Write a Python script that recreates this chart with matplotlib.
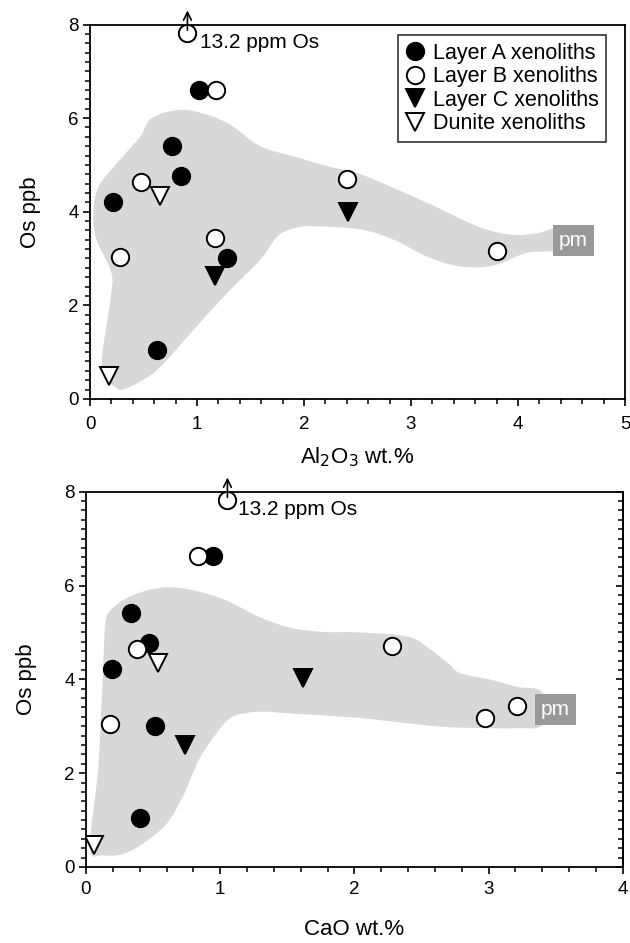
import numpy as np
import matplotlib
matplotlib.use("Agg")
import matplotlib.pyplot as plt
from matplotlib.ticker import MultipleLocator
from matplotlib.lines import Line2D
from matplotlib.path import Path
from matplotlib.patches import PathPatch

plt.rcParams['font.family'] = ['Liberation Sans', 'DejaVu Sans']

# ---- data: Al2O3 panel ----
al_A_x = [1.02, 0.77, 0.85, 0.21, 1.28, 0.625]
al_A_y = [6.61, 5.40, 4.77, 4.21, 3.01, 1.05]
al_B_x = [0.91, 1.18, 0.48, 0.28, 1.17, 2.40, 3.80]
al_B_y = [7.82, 6.61, 4.64, 3.04, 3.43, 4.70, 3.15]
al_C_x = [1.17, 2.41]
al_C_y = [2.62, 3.99]
al_D_x = [0.65, 0.175]
al_D_y = [4.33, 0.48]

# ---- data: CaO panel ----
ca_A_x = [0.943, 0.336, 0.467, 0.195, 0.511, 0.40]
ca_A_y = [6.62, 5.41, 4.78, 4.21, 3.01, 1.05]
ca_B_x = [1.054, 0.835, 0.383, 0.178, 2.28, 2.975, 3.21]
ca_B_y = [7.82, 6.62, 4.64, 3.04, 4.70, 3.17, 3.44]
ca_C_x = [0.74, 1.617]
ca_C_y = [2.60, 4.02]
ca_D_x = [0.536, 0.059]
ca_D_y = [4.34, 0.46]

# shaded field outlines
al_field_x = [0.25, 0.11, 0.19, 0.20, 0.06, 0.03, 0.08, 0.28, 0.47, 0.56, 0.75, 0.97,
              1.28, 1.59, 1.91, 2.22, 2.53, 3.15, 3.62, 3.93, 4.18, 4.40,
              4.40, 4.08, 3.77, 3.46, 3.15, 2.84, 2.53, 2.09, 1.91, 1.75, 1.59,
              1.28, 0.97, 0.66, 0.50, 0.34]
al_field_y = [0.23, 0.69, 2.12, 2.69, 3.40, 3.97, 4.54, 5.11, 5.61, 5.97, 6.15, 6.15,
              5.90, 5.40, 5.18, 4.97, 4.80, 4.19, 3.69, 3.51, 3.54, 3.66,
              3.20, 3.12, 2.85, 2.83, 3.04, 3.40, 3.62, 3.69, 3.65, 3.47, 2.97,
              2.26, 1.48, 0.69, 0.41, 0.23]
ca_field_x = [0.03, 0.09, 0.116, 0.128, 0.14, 0.165, 0.277, 0.425, 0.60, 0.795, 1.04,
              1.29, 1.536, 1.78, 2.03, 2.40, 2.57, 2.70, 2.79, 3.02, 3.21, 3.40,
              3.40, 3.21, 2.97, 2.65, 2.28, 2.03, 1.536, 1.29, 1.09, 0.97, 0.84,
              0.72, 0.60, 0.425, 0.277, 0.128]
ca_field_y = [0.40, 2.06, 3.49, 4.20, 5.05, 5.41, 5.69, 5.87, 5.96, 5.90, 5.69,
              5.33, 5.09, 5.01, 5.00, 4.91, 4.63, 4.34, 4.13, 3.99, 3.84, 3.72,
              3.03, 2.96, 2.96, 2.99, 3.10, 3.18, 3.27, 3.31, 3.20, 2.84, 2.28,
              1.49, 0.92, 0.50, 0.28, 0.25]

labels = ['Layer A xenoliths', 'Layer B xenoliths', 'Layer C xenoliths', 'Dunite xenoliths']
FIELD = '#d8d8d8'
PMBOX = '#999999'
MS = 12.5


def smooth_path(xs, ys):
    # closed bezier path through the outline points (catmull-rom control points)
    p = np.column_stack([xs, ys])
    n = len(p)
    verts = [p[0]]
    codes = [Path.MOVETO]
    for i in range(n):
        p0, p1, p2, p3 = p[i - 1], p[i], p[(i + 1) % n], p[(i + 2) % n]
        verts += [p1 + (p2 - p0) / 6.0, p2 - (p3 - p1) / 6.0, p2]
        codes += [Path.CURVE4] * 3
    return Path(verts, codes)


def panel(ax, A, B, C, D, fx, fy, xmax, xlabel, xtpad, xpad, pm_xy, arrow_x, note_xy):
    ax.add_patch(PathPatch(smooth_path(fx, fy), fc=FIELD, ec='none', lw=0, zorder=1))
    kw = dict(linestyle='none', markersize=MS, markeredgewidth=1.4,
              markeredgecolor='black', zorder=3)
    ax.plot(A[0], A[1], 'o', markerfacecolor='black', **kw)
    ax.plot(B[0], B[1], 'o', markerfacecolor='white', **kw)
    ax.plot(C[0], C[1], 'v', markerfacecolor='black', **kw)
    ax.plot(D[0], D[1], 'v', markerfacecolor='white', **kw)

    ax.text(pm_xy[0], pm_xy[1], 'pm', color='white', fontsize=15,
            ha='center', va='center', zorder=4,
            bbox=dict(boxstyle='square,pad=0.28', fc=PMBOX, ec='none'))

    ax.annotate('', xy=(arrow_x, 8.36), xytext=(arrow_x, 7.82),
                arrowprops=dict(arrowstyle='->', lw=1.2, color='black',
                                mutation_scale=14),
                annotation_clip=False, zorder=5)
    ax.text(note_xy[0], note_xy[1], '13.2 ppm Os', fontsize=15, ha='left',
            va='center', zorder=5)

    ax.set_xlim(0, xmax)
    ax.set_ylim(0, 8)
    ax.xaxis.set_major_locator(MultipleLocator(1))
    ax.xaxis.set_minor_locator(MultipleLocator(0.2))
    ax.yaxis.set_major_locator(MultipleLocator(2))
    ax.yaxis.set_minor_locator(MultipleLocator(0.2))
    ax.tick_params(which='major', length=5, width=1.2, labelsize=13.5,
                   direction='out', pad=3)
    ax.tick_params(axis='x', which='major', pad=xtpad)
    ax.tick_params(which='minor', length=3.5, width=1.1, direction='out')
    for s in ax.spines.values():
        s.set_linewidth(1.3)
    ax.set_xlabel(xlabel, fontsize=16, labelpad=xpad)
    ax.set_ylabel('Os ppb', fontsize=16, labelpad=20)


fig = plt.figure(figsize=(6.3, 9.43), dpi=100)
ax1 = fig.add_axes([0.143, 0.577, 0.849, 0.397])
ax2 = fig.add_axes([0.1365, 0.0806, 0.852, 0.398])

panel(ax1, (al_A_x, al_A_y), (al_B_x, al_B_y), (al_C_x, al_C_y), (al_D_x, al_D_y),
      al_field_x, al_field_y, 5, r'Al$_2$O$_3$ wt.%', 7, 9, (4.52, 3.38), 0.91, (1.03, 7.62))
panel(ax2, (ca_A_x, ca_A_y), (ca_B_x, ca_B_y), (ca_C_x, ca_C_y), (ca_D_x, ca_D_y),
      ca_field_x, ca_field_y, 4, 'CaO wt.%', 5, 15, (3.50, 3.35), 1.054, (1.13, 7.63))

# right-hand ticks on lower panel
sec = ax2.secondary_yaxis('right')
sec.yaxis.set_major_locator(MultipleLocator(2))
sec.yaxis.set_minor_locator(MultipleLocator(0.2))
sec.tick_params(which='major', direction='in', length=5, width=1.2, labelright=False)
sec.tick_params(which='minor', direction='in', length=3.5, width=1.1)
sec.spines['right'].set_linewidth(1.3)

handles = [
    Line2D([], [], marker='o', ls='none', ms=MS, mfc='black', mec='black', mew=1.4),
    Line2D([], [], marker='o', ls='none', ms=MS, mfc='white', mec='black', mew=1.4),
    Line2D([], [], marker='v', ls='none', ms=MS, mfc='black', mec='black', mew=1.4),
    Line2D([], [], marker='v', ls='none', ms=MS, mfc='white', mec='black', mew=1.4),
]
leg = ax1.legend(handles, labels, loc='upper right', fontsize=15.5, frameon=True,
                 fancybox=False, edgecolor='black', handlelength=0.8,
                 handletextpad=0.45, labelspacing=0.12, borderpad=0.35,
                 borderaxespad=0.0, bbox_to_anchor=(0.965, 0.972))
leg.get_frame().set_linewidth(1.2)

fig.savefig('out.png', dpi=100)
